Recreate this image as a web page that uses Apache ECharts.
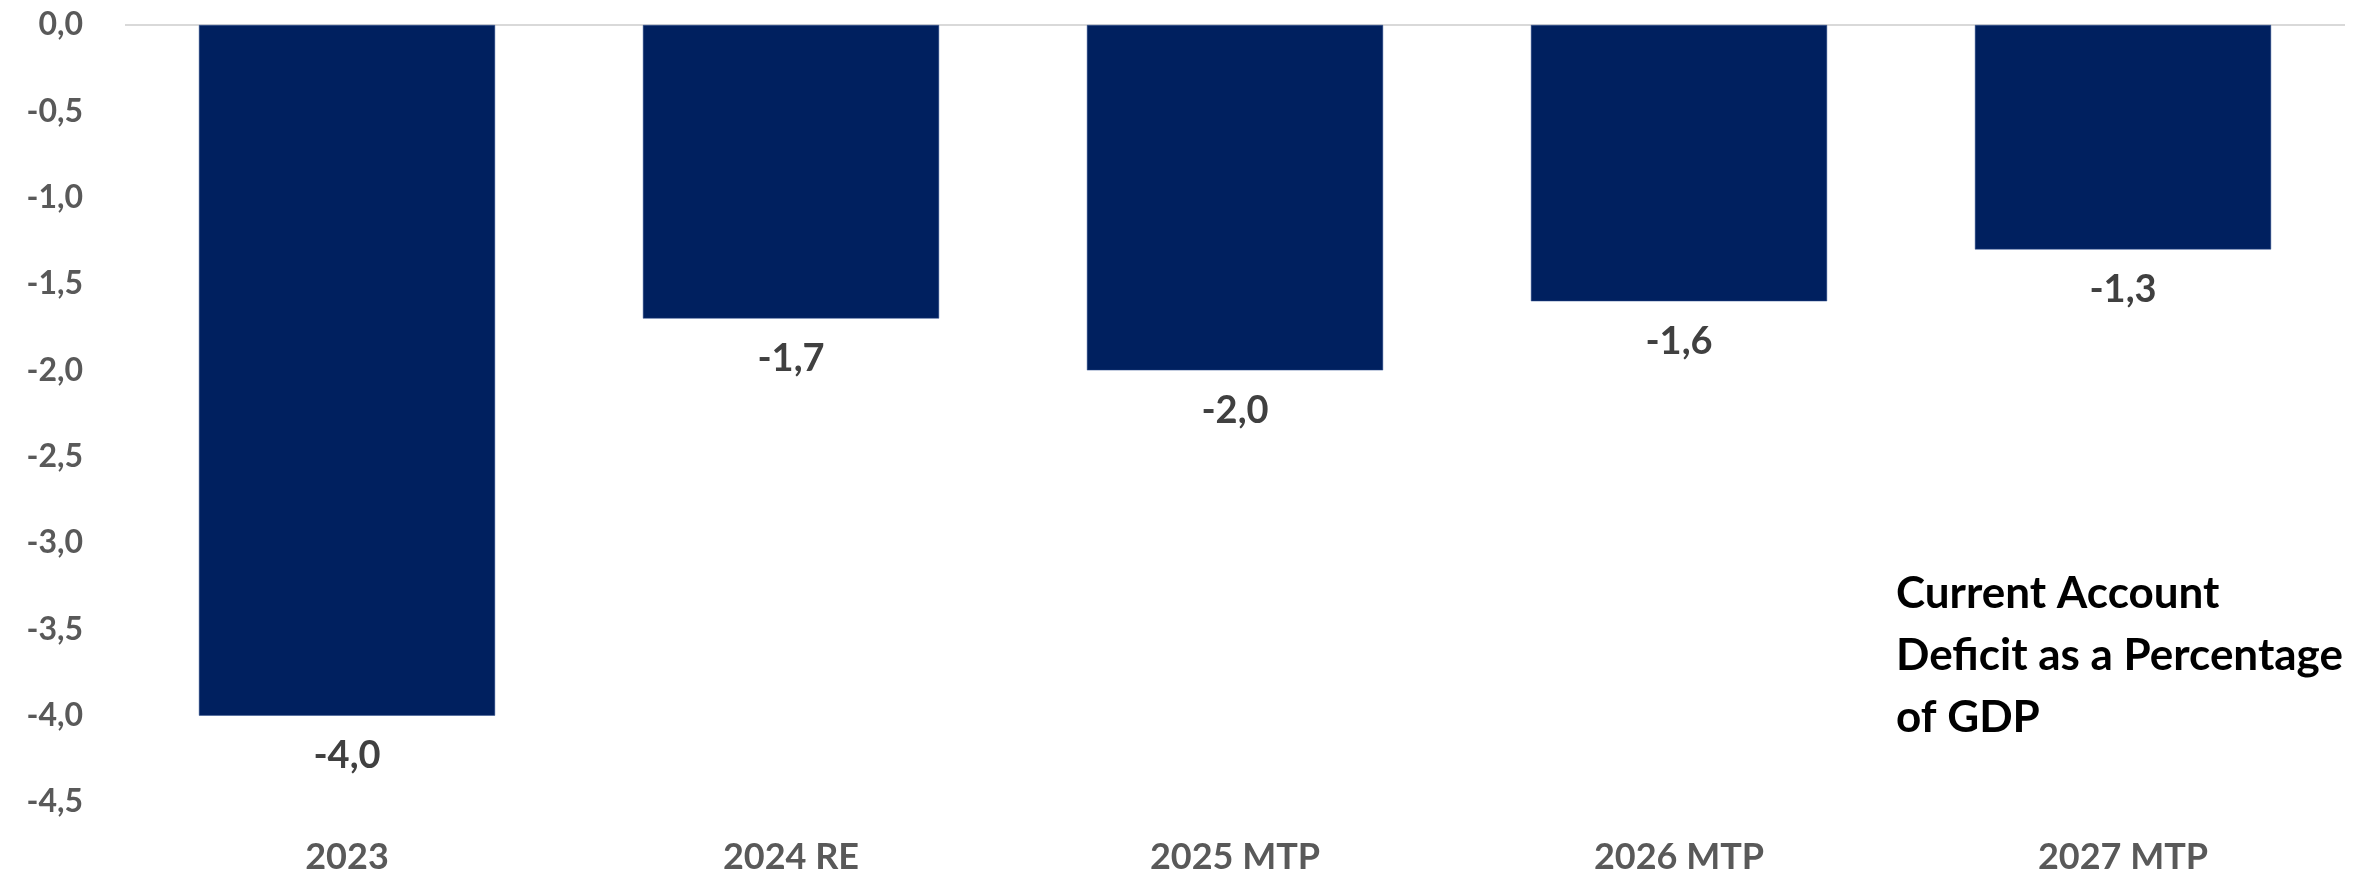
<!DOCTYPE html>
<html>
<head>
<meta charset="utf-8">
<script src="https://cdn.jsdelivr.net/npm/echarts@6/dist/echarts.min.js"></script>
<style>
  html, body { margin: 0; padding: 0; background: #ffffff; }
  #chart { width: 2377px; height: 876px; }
</style>
</head>
<body>
<div id="chart"></div>
<script>
// Current account balance, % of GDP
const categories = ['2023', '2024 RE', '2025 MTP', '2026 MTP', '2027 MTP'];
const values = [-4.0, -1.7, -2.0, -1.6, -1.3];
const noteLines = ['Current Account', 'Deficit as a Percentage', 'of GDP'];

const fmt = v => v.toFixed(1).replace('.', ',');
const FONT = 'Lato, "Open Sans", sans-serif';

const chart = echarts.init(document.getElementById('chart'));
chart.setOption({
  animation: false,
  backgroundColor: '#ffffff',
  grid: { left: 125, right: 32, top: 25, bottom: 74 },
  xAxis: {
    type: 'category',
    data: categories,
    position: 'bottom',
    axisLine: { show: false },
    axisTick: { show: false },
    axisLabel: {
      color: '#595959',
      fontFamily: FONT,
      fontWeight: 'bold',
      fontSize: 36,
      margin: 37
    }
  },
  yAxis: {
    type: 'value',
    min: -4.5,
    max: 0,
    interval: 0.5,
    axisLine: { show: false },
    axisTick: { show: false },
    splitLine: { show: false },
    axisLabel: {
      color: '#595959',
      fontFamily: FONT,
      fontWeight: 'bold',
      fontSize: 32,
      margin: 42,
      formatter: v => fmt(v)
    }
  },
  series: [
    {
      type: 'bar',
      data: values,
      barCategoryGap: '33.3%',
      itemStyle: { color: '#00205f', borderColor: '#2f4f8f', borderWidth: 0.5 },
      label: {
        show: true,
        position: 'bottom',
        distance: 21,
        color: '#404040',
        fontFamily: FONT,
        fontWeight: 'bold',
        fontSize: 38,
        formatter: p => fmt(p.value)
      },
      markLine: {
        silent: true,
        symbol: 'none',
        label: { show: false },
        lineStyle: { color: '#d9d9d9', width: 2, type: 'solid' },
        data: [{ yAxis: 0 }],
        z: 1
      },
      z: 2
    }
  ],
  graphic: [
    {
      type: 'text',
      left: 1896,
      top: 563,
      style: {
        text: noteLines.join('\n'),
        fill: '#000000',
        font: 'bold 44px ' + FONT,
        lineHeight: 62
      }
    }
  ]
});
</script>
</body>
</html>
